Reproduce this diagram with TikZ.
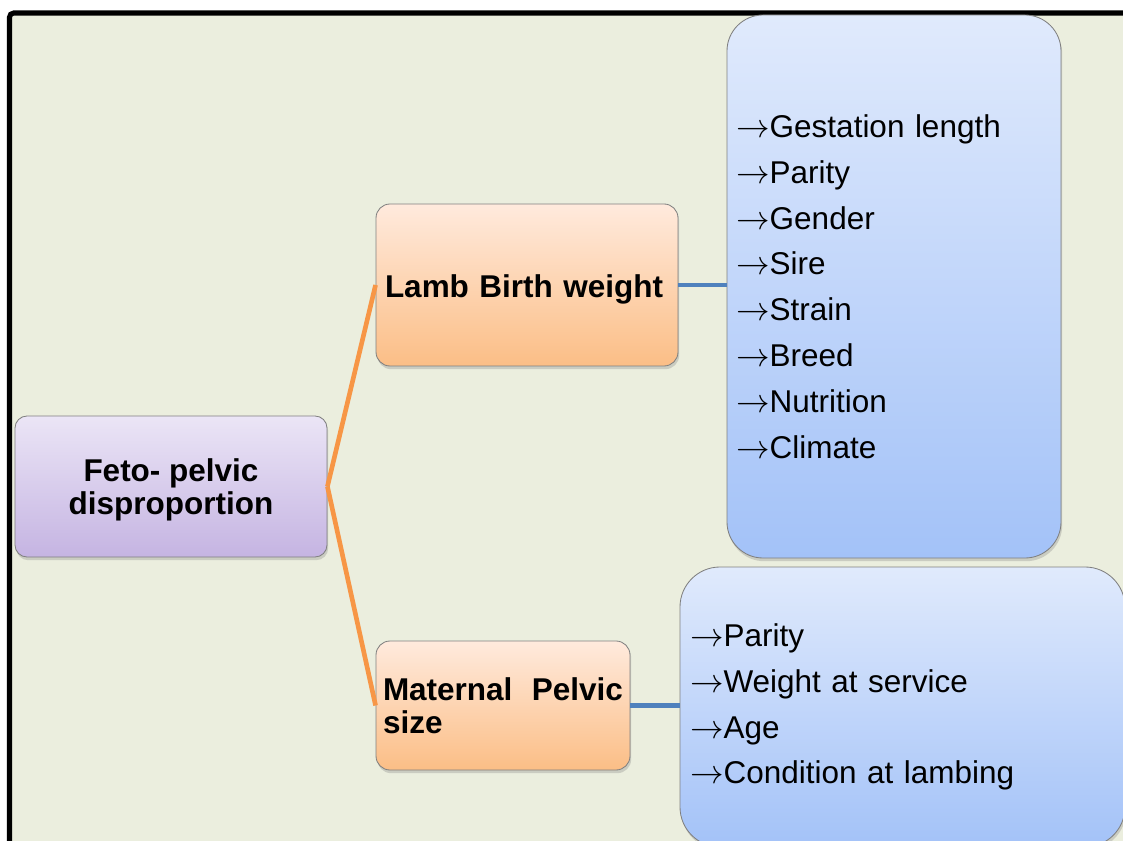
\documentclass[tikz,border=0pt]{standalone}
\usepackage{fontspec}
\setmainfont{Liberation Sans}
\usetikzlibrary{positioning, shadows}

\definecolor{bgolive}{RGB}{235,238,222}
\definecolor{rootTop}{RGB}{235,229,246}
\definecolor{rootBot}{RGB}{197,180,226}
\definecolor{peachTop}{RGB}{255,234,221}
\definecolor{peachBot}{RGB}{251,190,134}
\definecolor{skyTop}{RGB}{224,234,252}
\definecolor{skyBot}{RGB}{163,194,248}
\definecolor{linkOrange}{RGB}{247,150,70}
\definecolor{linkBlue}{RGB}{79,129,189}

\newcommand{\itemarrow}{\scalebox{1.15}{$\rightarrow$}}

\begin{document}
\begin{tikzpicture}[
  base/.style={draw=black!50, line width=0.6pt,
               drop shadow={opacity=0.3, shadow xshift=0.03cm, shadow yshift=-0.08cm}},
  rootbox/.style={base, rounded corners=0.3cm, top color=rootTop, bottom color=rootBot,
                  minimum width=7.8cm, minimum height=3.525cm, align=center,
                  font=\fontsize{22.4}{23.5}\selectfont\bfseries},
  factorbox/.style={base, rounded corners=0.35cm, top color=peachTop, bottom color=peachBot,
                    align=left, font=\fontsize{22.4}{23.5}\selectfont\bfseries},
  listbox/.style={base, rounded corners=0.9cm, top color=skyTop, bottom color=skyBot,
                  align=left, font=\fontsize{22.4}{32.6}\selectfont},
  orangeline/.style={draw=linkOrange, line width=3.3pt},
  blueline/.style={draw=linkBlue, line width=3.3pt}
]
  \useasboundingbox (0,0) rectangle (28.075,21);
  \clip (0,0) rectangle (28.075,21);
  \fill[white] (0,0) rectangle (28.075,21);
  \draw[line width=3.6pt, fill=bgolive, rounded corners=3pt] (0.2375,20.675) rectangle (30,-2);

  \node[rootbox, text height=45pt] (root) at (4.275, 8.8375) {Feto- pelvic\\disproportion};
  \node[factorbox, minimum height=4.05cm, inner xsep=0.225cm, text width=7.1cm, text height=22pt]
    (lamb) at (13.175, 13.875) {Lamb Birth weight};
  \node[factorbox, minimum height=3.225cm, inner xsep=0.175cm, text width=6cm]
    (pelvic) at (12.575, 3.3625) {Maternal\hfill Pelvic\\size};

  \node[listbox, minimum height=13.575cm, inner xsep=0.23cm, text width=7.89cm]
    (lambfactors) at (22.35, 13.8375)
    {\itemarrow Gestation length\\\itemarrow Parity\\\itemarrow Gender\\\itemarrow Sire\\
     \itemarrow Strain\\\itemarrow Breed\\\itemarrow Nutrition\\\itemarrow Climate};
  \node[listbox, rounded corners=1cm, minimum height=7cm, inner xsep=0.25cm, text width=10.625cm]
    (pelvicfactors) at (22.5625, 3.325)
    {\itemarrow Parity\\\itemarrow Weight at service\\\itemarrow Age\\\itemarrow Condition at lambing};

  \draw[orangeline] (root.east) -- (lamb.west);
  \draw[orangeline] (root.east) -- (pelvic.west);
  \draw[blueline] (lamb.east) -- (lamb.east -| lambfactors.west);
  \draw[blueline] (pelvic.east) -- (pelvic.east -| pelvicfactors.west);
\end{tikzpicture}
\end{document}
